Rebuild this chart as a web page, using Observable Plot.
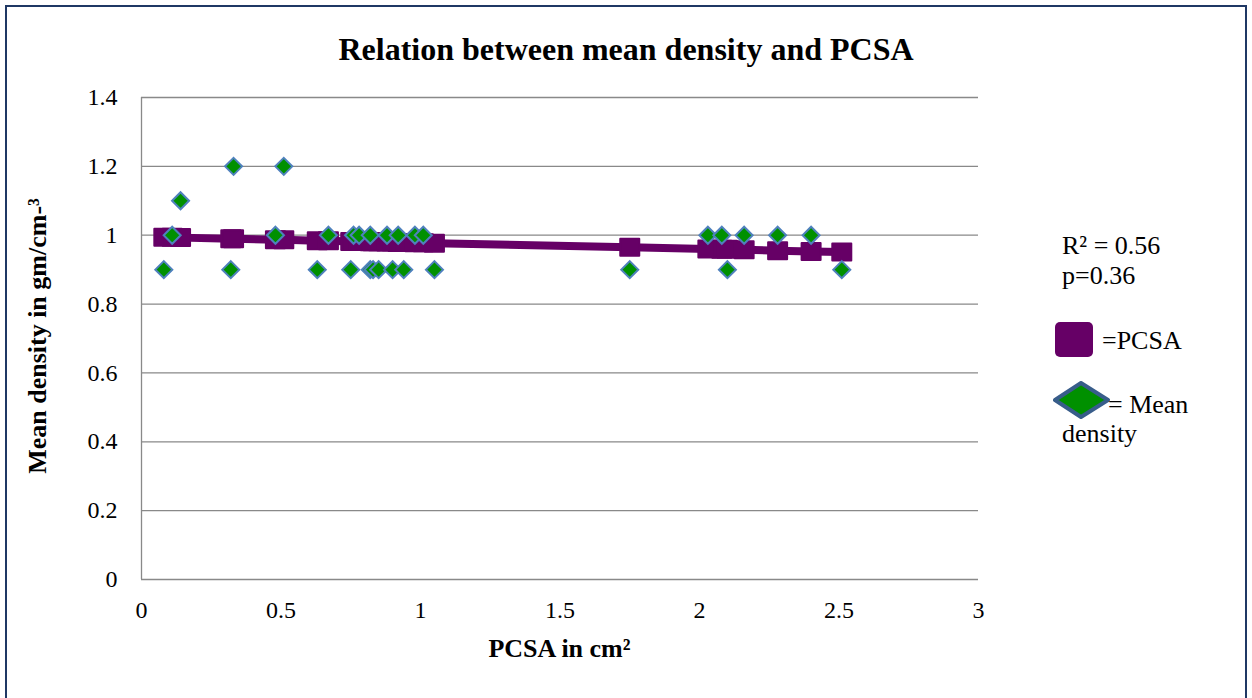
<!DOCTYPE html>
<html><head><meta charset="utf-8">
<script src="https://cdn.jsdelivr.net/npm/d3@7"></script>
<script src="https://cdn.jsdelivr.net/npm/@observablehq/plot@0.6"></script>
<style>
body{margin:0;background:#fff}
#wrap{position:relative;width:1252px;height:698px;overflow:hidden;font-family:"Times New Roman","Liberation Serif",serif;color:#000;background:#fff}
.t{position:absolute;line-height:1;white-space:nowrap;font-family:"Times New Roman","Liberation Serif",serif}
.b{font-weight:bold}
#chart svg text{font-family:"Times New Roman","Liberation Serif",serif}
</style></head><body>
<div id="wrap">
  <div style="position:absolute;left:5px;top:5px;width:1238px;height:760px;border:2px solid #1f3864"></div>
  <div id="chart" style="position:absolute;left:0;top:0"></div>
  <div class="t b" id="title" style="left:0;width:1252px;text-align:center;top:33px;font-size:32px">Relation between mean density and PCSA</div>
  <div class="t b" id="xlabel" style="left:141px;width:837px;text-align:center;top:636px;font-size:26px">PCSA in cm²</div>
  <div class="t b" id="ylabel" style="left:38px;top:336px;font-size:26px;transform:translate(-50%,-50%) rotate(-90deg)">Mean density in gm/cm-³</div>
  <div class="t" style="left:1062px;top:233px;font-size:26px">R² = 0.56</div>
  <div class="t" style="left:1062px;top:263px;font-size:26px">p=0.36</div>
  <div style="position:absolute;left:1055px;top:322px;width:38px;height:35px;background:#660066;border-radius:5px"></div>
  <div class="t" style="left:1102px;top:328px;font-size:26px">=PCSA</div>
  <svg style="position:absolute;left:1053px;top:381px" width="58" height="39"><polygon points="2,19 28,2 55,19 28,36" fill="#009000" stroke="#385d8a" stroke-width="4" stroke-linejoin="round"/></svg>
  <div class="t" style="left:1108px;top:392px;font-size:26px">= Mean</div>
  <div class="t" style="left:1062px;top:421px;font-size:26px">density</div>
</div>
<script>
// Mean density points (PCSA in cm², mean density)
const densityPcsa   = [0.08,0.32,0.63,0.75,0.82,0.83,0.85,0.90,0.94,1.05,1.75,2.10,2.51,
                       0.11,0.48,0.67,0.76,0.78,0.82,0.88,0.92,0.98,1.01,2.03,2.08,2.16,2.28,2.40,
                       0.14,0.33,0.51];
const densityValues = [0.9,0.9,0.9,0.9,0.9,0.9,0.9,0.9,0.9,0.9,0.9,0.9,0.9,
                       1.0,1.0,1.0,1.0,1.0,1.0,1.0,1.0,1.0,1.0,1.0,1.0,1.0,1.0,1.0,
                       1.1,1.2,1.2];
// PCSA series (purple squares joined by a line)
const pcsaX = [0.08,0.11,0.14,0.32,0.33,0.48,0.51,0.63,0.67,0.75,0.76,0.78,0.82,0.83,0.85,
               0.88,0.90,0.92,0.94,0.98,1.01,1.05,1.75,2.03,2.08,2.10,2.16,2.28,2.40,2.51];
const pcsaY = [0.994,0.994,0.993,0.990,0.990,0.987,0.987,0.984,0.984,0.982,0.982,0.982,0.981,0.981,0.981,
               0.980,0.980,0.979,0.979,0.978,0.978,0.977,0.965,0.960,0.959,0.959,0.958,0.955,0.953,0.951];
const xTicks = [0,0.5,1,1.5,2,2.5,3];
const yTicks = [0,0.2,0.4,0.6,0.8,1,1.2,1.4];

const points = densityPcsa.map((x,i)=>({x, y: densityValues[i]}));
const trend = pcsaX.map((x,i)=>({x, y: pcsaY[i]}));

const squareSym = {draw(ctx){const w=9.5,h=8.5;ctx.moveTo(-w,-h);ctx.lineTo(w,-h);ctx.lineTo(w,h);ctx.lineTo(-w,h);ctx.closePath();}};
const diamondSym = {draw(ctx){const w=8.5,h=8.5;ctx.moveTo(0,-h);ctx.lineTo(w,0);ctx.lineTo(0,h);ctx.lineTo(-w,0);ctx.closePath();}};

const chart = Plot.plot({
  width:1252, height:698,
  marginTop:97, marginBottom:119, marginLeft:141, marginRight:274,
  style:{fontFamily:'"Times New Roman", "Liberation Serif", serif', fontSize:"24px", color:"#000", background:"transparent", overflow:"visible"},
  x:{domain:[0,3], ticks:xTicks, tickSize:0, tickPadding:21, label:null, tickFormat:d=>String(d)},
  y:{domain:[0,1.4], ticks:yTicks, tickSize:0, tickPadding:24, label:null, tickFormat:d=>String(d)},
  marks:[
    Plot.gridY(yTicks,{stroke:"#898989", strokeOpacity:1, strokeWidth:1.3}),
    Plot.ruleX([0],{stroke:"#898989", strokeWidth:1.3}),
    Plot.line(trend,{x:"x", y:"y", stroke:"#660066", strokeWidth:8}),
    Plot.dot(trend,{x:"x", y:"y", symbol:squareSym, fill:"#660066", stroke:"#660066", strokeWidth:2, strokeLinejoin:"round"}),
    Plot.dot(points,{x:"x", y:"y", symbol:diamondSym, fill:"#009000", stroke:"#4f81bd", strokeWidth:2})
  ]
});
document.getElementById("chart").appendChild(chart);
</script>
</body></html>
